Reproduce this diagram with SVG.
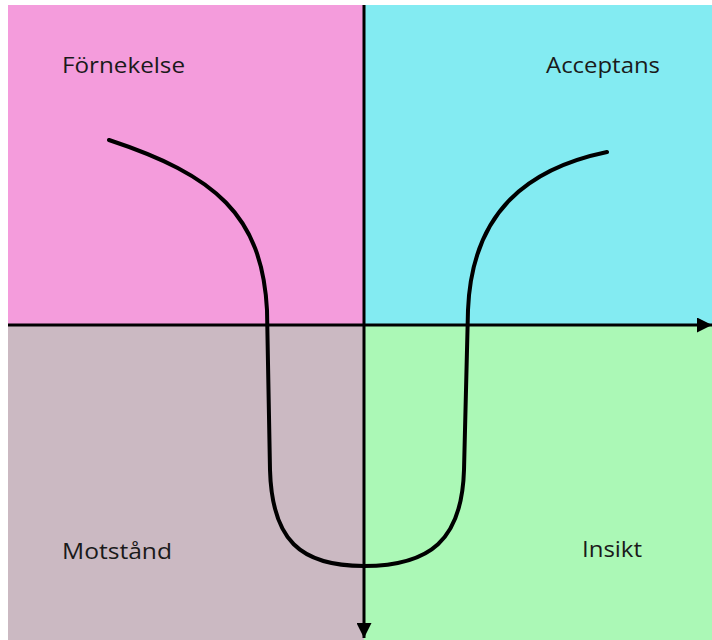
<svg xmlns="http://www.w3.org/2000/svg" width="712" height="640" viewBox="0 0 712 640">
  <style>
    .lbl { font-family: "Open Sans", "Liberation Sans", sans-serif; font-size: 22px; fill: #1a1a1a; }
    .axis { stroke: #000; stroke-width: 3; fill: none; }
    .curve { stroke: #000; stroke-width: 4; fill: none; stroke-linecap: round; }
  </style>
  <defs>
    <marker id="arrow" viewBox="0 0 10 10" refX="10" refY="5" markerWidth="5" markerHeight="5" markerUnits="strokeWidth" orient="auto">
      <path d="M0,0 L10,5 L0,10 Z" fill="#000"/>
    </marker>
  </defs>
  <rect width="712" height="640" fill="#ffffff"/>
  <g id="q-fornekelse">
    <rect x="8" y="5" width="356" height="320" fill="#F49CDC"/>
    <text class="lbl" x="62" y="73" textLength="123" lengthAdjust="spacingAndGlyphs">Förnekelse</text>
  </g>
  <g id="q-acceptans">
    <rect x="364" y="5" width="348" height="320" fill="#83EBF2"/>
    <text class="lbl" x="546" y="73" textLength="114" lengthAdjust="spacingAndGlyphs">Acceptans</text>
  </g>
  <g id="q-motstand">
    <rect x="8" y="325" width="356" height="315" fill="#CBB9C2"/>
    <text class="lbl" x="62" y="559" textLength="110" lengthAdjust="spacingAndGlyphs">Motstånd</text>
  </g>
  <g id="q-insikt">
    <rect x="364" y="325" width="348" height="315" fill="#ABF8B6"/>
    <text class="lbl" x="582" y="557" textLength="60" lengthAdjust="spacingAndGlyphs">Insikt</text>
  </g>
  <g id="connectors">
    <line class="axis" x1="8" y1="325" x2="712" y2="325" marker-end="url(#arrow)"/>
    <line class="axis" x1="364" y1="5" x2="364" y2="638" marker-end="url(#arrow)"/>
    <path class="curve" d="M109,140 C215,175 262,215 267,310 L270,470 C272,540 300,566 364,566 C430,566 462,540 464,470 L468,310 C472,210 530,168 607,152"/>
  </g>
</svg>
